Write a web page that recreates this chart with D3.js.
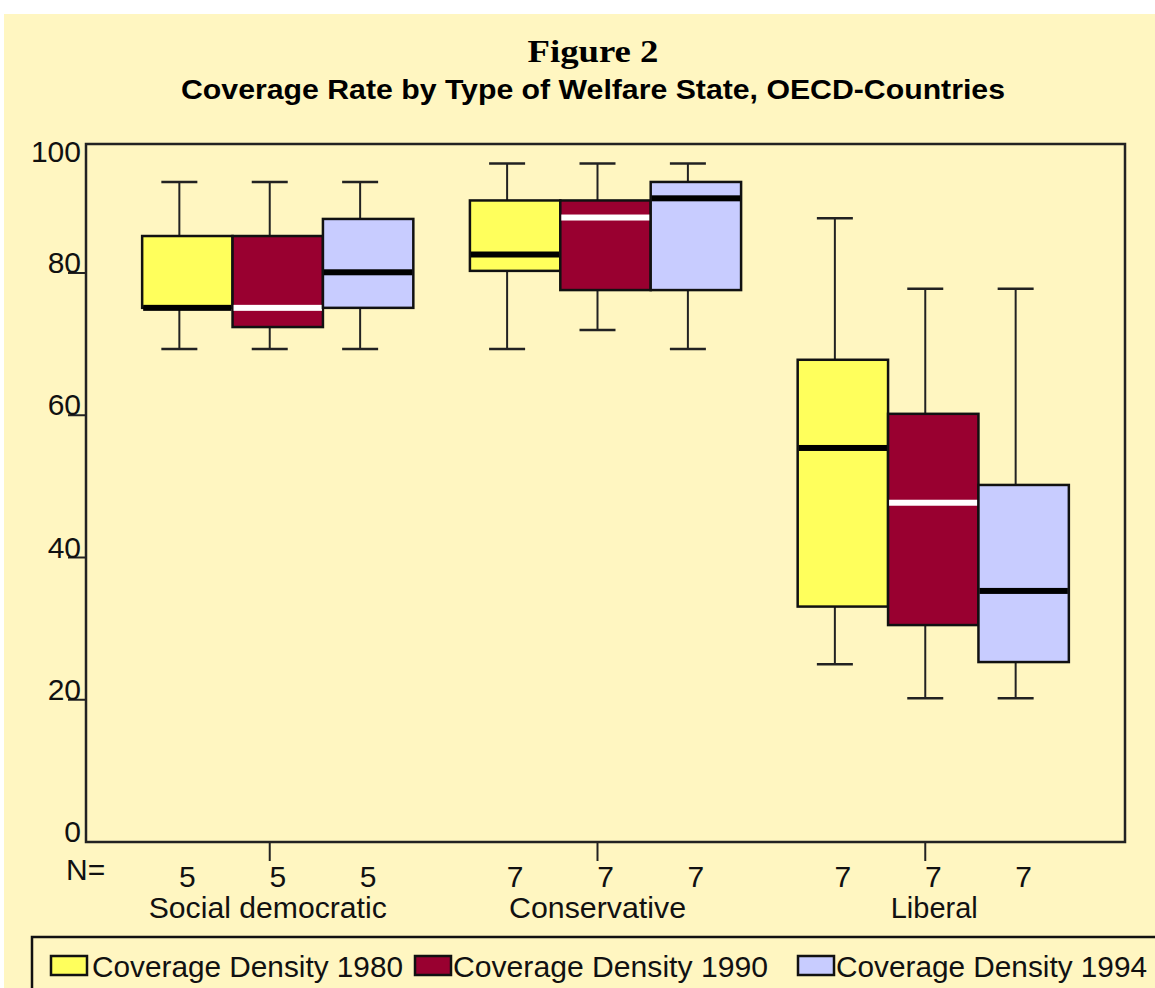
<!DOCTYPE html>
<html><head><meta charset="utf-8">
<script src="https://cdn.jsdelivr.net/npm/d3@7"></script>
<style>body{margin:0;background:#fff;} svg{display:block;}</style>
</head><body>
<script>
const groups = ["Social democratic", "Conservative", "Liberal"];
const series = ["Coverage Density 1980", "Coverage Density 1990", "Coverage Density 1994"];
const nCounts   = [[5, 5, 5], [7, 7, 7], [7, 7, 7]];
const whiskerLo = [[69.3, 69.3, 69.3], [69.3, 72.0, 69.3], [25.0, 20.2, 20.2]];
const q1Values  = [[75.1, 72.4, 75.1], [80.3, 77.6, 77.6], [33.1, 30.5, 25.3]];
const medians   = [[75.1, 75.1, 80.1], [82.6, 87.8, 90.5], [55.4, 47.7, 35.3]];
const q3Values  = [[85.2, 85.2, 87.6], [90.2, 90.2, 92.8], [67.8, 60.2, 50.2]];
const whiskerHi = [[92.8, 92.8, 92.8], [95.4, 95.4, 95.4], [87.7, 77.8, 77.8]];
const yTicks = [0, 20, 40, 60, 80, 100];
const fills = ["#FFFF5C", "#990030", "#C8CCFF"];
const medianColors = ["#000000", "#FFFFFF", "#000000"];

(function () {
const W = 1155, H = 988;
const pLeft = 86, pRight = 1125, pTop = 144, pBottom = 842;
const FONT = "'Liberation Sans', Arial, sans-serif";

const svg = d3.select("body").append("svg").attr("width", W).attr("height", H);
svg.append("rect").attr("x", 4).attr("y", 14).attr("width", W - 4).attr("height", H - 14).attr("fill", "#FFF6C1");

// Titles
svg.append("text").attr("x", 593).attr("y", 62).attr("text-anchor", "middle")
  .attr("font-family", "'Liberation Serif', 'Times New Roman', serif").attr("font-weight", "bold")
  .attr("font-size", 31).attr("textLength", 131).attr("lengthAdjust", "spacingAndGlyphs").text("Figure 2");
svg.append("text").attr("x", 593).attr("y", 99).attr("text-anchor", "middle")
  .attr("font-family", FONT).attr("font-weight", "bold")
  .attr("font-size", 27).attr("textLength", 824).attr("lengthAdjust", "spacingAndGlyphs")
  .text("Coverage Rate by Type of Welfare State, OECD-Countries");

const y = d3.scaleLinear().domain([0, 100]).range([pBottom, pBottom - 711.25]);
const gx = d3.scaleBand().domain(groups).range([pLeft, pRight]).paddingInner(0).paddingOuter(0.085);
const sx = d3.scaleBand().domain(series).range([0, gx.bandwidth()]).paddingInner(0).paddingOuter(0.313);
const whiskerShift = -8;

// Frame
svg.append("rect").attr("x", pLeft).attr("y", pTop).attr("width", pRight - pLeft).attr("height", pBottom - pTop)
  .attr("fill", "none").attr("stroke", "#222").attr("stroke-width", 2.5);

// Y axis ticks + labels
const yAxisG = svg.append("g");
yTicks.forEach(v => {
  const ty = v === 100 ? pTop + 18 : y(v);
  if (v > 0 && v < 100) {
    yAxisG.append("line").attr("x1", 68).attr("x2", pLeft).attr("y1", y(v)).attr("y2", y(v))
      .attr("stroke", "#222").attr("stroke-width", 2);
  }
  yAxisG.append("text").attr("x", 81).attr("y", ty).attr("text-anchor", "end")
    .attr("font-family", FONT).attr("font-size", 30).attr("fill", "#111").text(v);
});

// X group ticks
groups.forEach(g => {
  const cx = gx(g) + gx.bandwidth() / 2 + whiskerShift;
  svg.append("line").attr("x1", cx).attr("x2", cx).attr("y1", pBottom).attr("y2", pBottom + 19)
    .attr("stroke", "#222").attr("stroke-width", 2);
});

// Boxes
groups.forEach((g, gi) => {
  const gg = svg.append("g");
  series.forEach((s, si) => {
    const bx = gx(g) + sx(s);
    const bw = sx.bandwidth();
    const cx = bx + bw / 2;
    const wx = cx + whiskerShift;
    gg.append("line").attr("x1", wx).attr("x2", wx).attr("y1", y(whiskerHi[gi][si])).attr("y2", y(q3Values[gi][si]))
      .attr("stroke", "#222").attr("stroke-width", 2);
    gg.append("line").attr("x1", wx).attr("x2", wx).attr("y1", y(q1Values[gi][si])).attr("y2", y(whiskerLo[gi][si]))
      .attr("stroke", "#222").attr("stroke-width", 2);
    [whiskerHi[gi][si], whiskerLo[gi][si]].forEach(v => {
      gg.append("line").attr("x1", wx - 18).attr("x2", wx + 18).attr("y1", y(v)).attr("y2", y(v))
        .attr("stroke", "#222").attr("stroke-width", 2.5);
    });
    gg.append("rect").attr("x", bx).attr("y", y(q3Values[gi][si])).attr("width", bw)
      .attr("height", y(q1Values[gi][si]) - y(q3Values[gi][si]))
      .attr("fill", fills[si]).attr("stroke", "#111").attr("stroke-width", 2.5);
    gg.append("rect").attr("x", bx + 1).attr("y", y(medians[gi][si]) - 3).attr("width", bw - 2).attr("height", 6)
      .attr("fill", medianColors[si]);
    svg.append("text").attr("x", cx).attr("y", 887).attr("text-anchor", "middle")
      .attr("font-family", FONT).attr("font-size", 30).attr("fill", "#111").text(nCounts[gi][si]);
  });
});

svg.append("text").attr("x", 66).attr("y", 880).attr("font-family", FONT).attr("font-size", 30)
  .attr("fill", "#111").text("N=");

const groupLabelW = [238, 177, 87];
const groupLabelShift = [-10, -8, 1];
groups.forEach((g, gi) => {
  svg.append("text").attr("x", gx(g) + gx.bandwidth() / 2 + groupLabelShift[gi]).attr("y", 918).attr("text-anchor", "middle")
    .attr("font-family", FONT).attr("font-size", 30).attr("fill", "#111")
    .attr("textLength", groupLabelW[gi]).attr("lengthAdjust", "spacingAndGlyphs").text(g);
});

// Legend
svg.append("rect").attr("x", 32).attr("y", 937).attr("width", 1140).attr("height", 70)
  .attr("fill", "none").attr("stroke", "#111").attr("stroke-width", 2.5);
const legendSwatchX = [51, 415, 798];
const legendTextX = [92, 453, 836];
const legendTextW = [311, 315, 311];
series.forEach((s, si) => {
  svg.append("rect").attr("x", legendSwatchX[si]).attr("y", 956).attr("width", 36).attr("height", 19)
    .attr("fill", fills[si]).attr("stroke", "#111").attr("stroke-width", 2.5);
  svg.append("text").attr("x", legendTextX[si]).attr("y", 977).attr("font-family", FONT).attr("font-size", 30)
    .attr("fill", "#111").attr("textLength", legendTextW[si]).attr("lengthAdjust", "spacingAndGlyphs").text(s);
});
})();
</script>
</body></html>
